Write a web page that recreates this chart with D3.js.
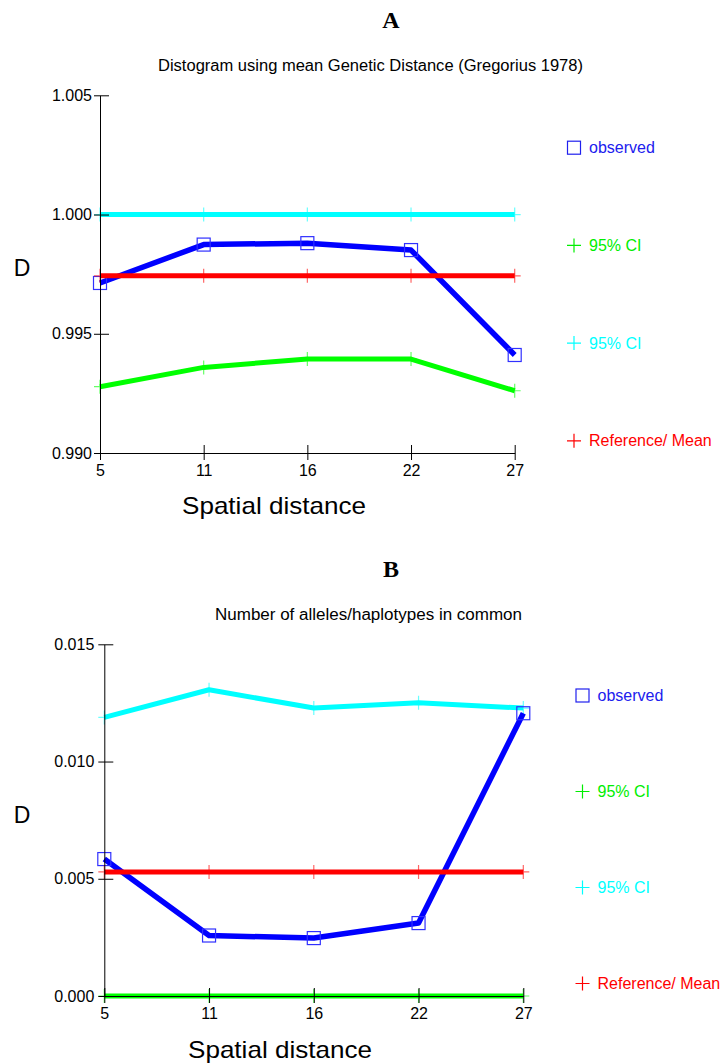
<!DOCTYPE html>
<html>
<head>
<meta charset="utf-8">
<script src="https://cdn.jsdelivr.net/npm/d3@7"></script>
<style>
  body { margin: 0; background: #fff; }
  text { font-family: "Liberation Sans", Arial, sans-serif; }
</style>
</head>
<body>
<svg id="chart" width="722" height="1064" viewBox="0 0 722 1064"></svg>
<script>
/* ----- data ----- */
const distances = ["5", "11", "16", "22", "27"];

// panel A : mean genetic distance
const observedA = [0.99713, 0.99874, 0.99880, 0.99851, 0.99411];
const ciLowA    = [0.99278, 0.99359, 0.99394, 0.99394, 0.99261];
const ciHighA   = [1.00000, 1.00000, 1.00000, 1.00000, 1.00000];
const meanA     = [0.99743, 0.99743, 0.99743, 0.99743, 0.99743];
const yTicksA   = [0.990, 0.995, 1.000, 1.005];

// panel B : alleles / haplotypes in common
const observedB = [0.00584, 0.00258, 0.00247, 0.00311, 0.01206];
const ciLowB    = [0.00000, 0.00000, 0.00000, 0.00000, 0.00000];
const ciHighB   = [0.01188, 0.01306, 0.01228, 0.01251, 0.01228];
const meanB     = [0.00529, 0.00529, 0.00529, 0.00529, 0.00529];
const yTicksB   = [0.000, 0.005, 0.010, 0.015];

const legendLabels = ["observed", "95% CI", "95% CI", "Reference/ Mean"];
const legendColors = ["#0000ff", "#00ee00", "#00ffff", "#ff0000"];


let svg = d3.select("#chart");

function drawPanel(cfg)
{
    let g = svg.append("g");

    let x = d3.scalePoint().domain(distances).range([cfg.left, cfg.right]);
    let y = d3.scaleLinear().domain(cfg.domain).range([cfg.bottom, cfg.top]);

    /* ----- titles ----- */
    g.append("text")
        .attr("x", 391).attr("y", cfg.letterY)
        .attr("text-anchor", "middle")
        .style("font-family", "'Liberation Serif', 'Times New Roman', serif")
        .style("font-weight", "bold")
        .style("font-size", "24px")
        .text(cfg.letter);

    g.append("text")
        .attr("x", cfg.subX).attr("y", cfg.subY)
        .attr("textLength", cfg.subLen)
        .attr("lengthAdjust", "spacingAndGlyphs")
        .style("font-size", "16px")
        .text(cfg.subtitle);

    /* ----- series lines ----- */
    let line = d3.line()
        .x((d, i) => x(distances[i]))
        .y(d => y(d));

    let series = [
        {values: cfg.ciLow,  color: "#00ff00", width: 5, mark: "plus"},
        {values: cfg.ciHigh, color: "#00ffff", width: 5, mark: "plus"},
        {values: cfg.observed, color: "#0000ff", width: 5.5, mark: "square"},
        {values: cfg.mean,   color: "#ff0000", width: 5, mark: "plus"}
    ];

    series.forEach(s => {
        g.append("path")
            .attr("d", line(s.values))
            .attr("fill", "none")
            .attr("stroke", s.color)
            .attr("stroke-width", s.width)
            .attr("stroke-linejoin", "round");

        if (s.mark === "plus") {
            g.selectAll(null)
                .data(s.values)
                .enter()
                .append("path")
                .attr("transform", (d, i) => `translate(${x(distances[i])},${y(d)})`)
                .attr("d", "M-6,0H6M0,-7V7")
                .attr("stroke", s.color)
                .attr("stroke-opacity", 0.6)
                .attr("stroke-width", 1.2);
        } else {
            g.selectAll(null)
                .data(s.values)
                .enter()
                .append("rect")
                .attr("x", (d, i) => x(distances[i]) - 6.5)
                .attr("y", d => y(d) - 6.5)
                .attr("width", 13).attr("height", 13)
                .attr("fill", "none")
                .attr("stroke", "#3030ff")
                .attr("stroke-width", 1.2);
        }
    });

    /* ----- axes (on top of the lines) ----- */
    let yAxis = g.append("g")
        .attr("transform", `translate(${cfg.left},0)`)
        .call(d3.axisLeft(y)
            .tickValues(cfg.yTicks)
            .tickFormat(d3.format(".3f"))
            .tickSizeInner(6)
            .tickSizeOuter(0)
            .tickPadding(cfg.yPad));
    yAxis.selectAll(".tick line").attr("x1", 9);

    let xAxis = g.append("g")
        .attr("transform", `translate(0,${cfg.bottom})`)
        .call(d3.axisBottom(x)
            .tickSizeInner(7)
            .tickSizeOuter(0)
            .tickPadding(5));
    xAxis.selectAll(".tick line").attr("y1", -8);

    svg.selectAll(".domain").attr("stroke", "#000");
    g.selectAll(".tick text")
        .style("font-family", "'Liberation Sans', Arial, sans-serif")
        .style("font-size", "16px")
        .attr("fill", "#000");

    /* ----- axis titles ----- */
    g.append("text")
        .attr("x", 22).attr("y", cfg.dY)
        .attr("text-anchor", "middle")
        .style("font-size", "23px")
        .text("D");

    g.append("text")
        .attr("x", cfg.xLabX).attr("y", cfg.xLabY)
        .attr("textLength", 184)
        .attr("lengthAdjust", "spacingAndGlyphs")
        .style("font-size", "24px")
        .text("Spatial distance");

    /* ----- legend ----- */
    let legend = g.selectAll(".legend")
        .data(legendLabels)
        .enter()
        .append("g")
        .attr("class", "legend")
        .attr("transform", (d, i) => `translate(${cfg.legX},${cfg.legY + i * cfg.legStep})`);

    legend.each(function (d, i) {
        let item = d3.select(this);
        if (i === 0) {
            item.append("rect")
                .attr("x", -6.5).attr("y", -6.5)
                .attr("width", 13).attr("height", 13)
                .attr("fill", "none")
                .attr("stroke", "#2020ee")
                .attr("stroke-width", 1.2);
        } else {
            item.append("path")
                .attr("d", "M-7,0H7M0,-7V7")
                .attr("stroke", legendColors[i])
                .attr("stroke-width", 1.2);
        }
        item.append("text")
            .attr("x", 15).attr("y", 5.5)
            .attr("fill", i === 0 ? "#2020ee" : legendColors[i])
            .style("font-size", "16px")
            .text(d);
    });
}

drawPanel({
    letter: "A", letterY: 28,
    subtitle: "Distogram using mean Genetic Distance (Gregorius 1978)",
    subX: 158, subY: 70.5, subLen: 425,
    left: 100, right: 514.7, top: 95.3, bottom: 453,
    domain: [0.990, 1.005], yTicks: yTicksA, yPad: 2,
    observed: observedA, ciLow: ciLowA, ciHigh: ciHighA, mean: meanA,
    dY: 276, xLabX: 182, xLabY: 514,
    legX: 574, legY: 147.7, legStep: 97.7
});

drawPanel({
    letter: "B", letterY: 577,
    subtitle: "Number of alleles/haplotypes in common",
    subX: 215, subY: 619.5, subLen: 307,
    left: 104.3, right: 523.3, top: 644.3, bottom: 996,
    domain: [0.000, 0.015], yTicks: yTicksB, yPad: 4,
    observed: observedB, ciLow: ciLowB, ciHigh: ciHighB, mean: meanB,
    dY: 823, xLabX: 188, xLabY: 1058,
    legX: 582.5, legY: 695.5, legStep: 96
});
</script>
</body>
</html>
